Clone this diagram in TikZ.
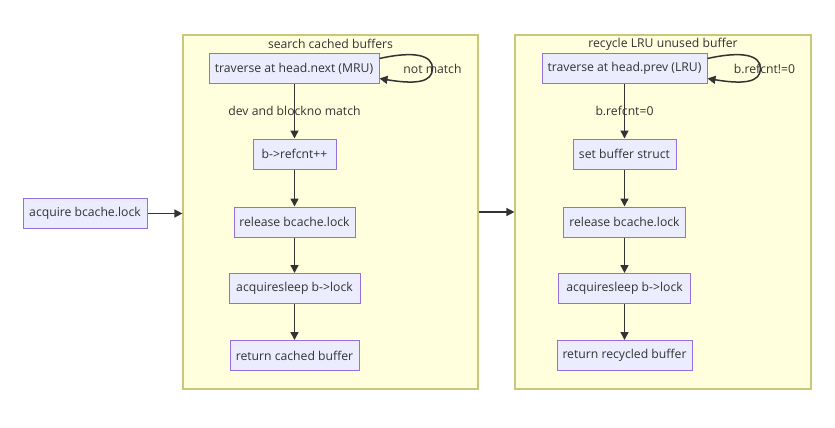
\documentclass[tikz,border=0pt]{standalone}
\usepackage{fontspec}
\setmainfont{Open Sans}
\usetikzlibrary{arrows.meta}
\definecolor{nodefill}{HTML}{ECECFF}
\definecolor{nodestroke}{HTML}{9370DB}
\definecolor{clfill}{HTML}{FFFFDE}
\definecolor{clstroke}{HTML}{C8C87A}
\definecolor{edgec}{HTML}{333333}
\begin{document}
\begin{tikzpicture}[x=1pt,y=-1pt,
  box/.style={draw=nodestroke, fill=nodefill, line width=1pt, minimum height=30pt, inner sep=0pt, font=\fontsize{12.2}{14}\selectfont, text=edgec},
  cluster/.style={draw=clstroke, fill=clfill, line width=1.2pt, inner sep=0pt},
  flow/.style={draw=edgec, line width=1.5pt, -{Triangle[length=8pt,width=8pt]}},
  lbl/.style={font=\fontsize{12.2}{14}\selectfont, text=edgec, inner sep=1pt}]
\useasboundingbox[fill=white] (0,0) rectangle (835,428);
% clusters
\node[cluster, minimum width=295pt, minimum height=354pt] (c1) at (330.5,212) {};
\node[cluster, minimum width=296pt, minimum height=354pt] (c2) at (663,212) {};
\node[lbl] (t1) at (330.5,44) {search cached buffers};
\node[lbl] (t2) at (663,44) {recycle LRU unused buffer};
% outer node
\node[box, minimum width=124pt] (acq) at (85,213.5) {acquire bcache.lock};
% left cluster
\node[box, minimum width=170pt] (trav1) at (294,68.5) {traverse at head.next (MRU)};
\node[box, minimum width=83pt] (ref1) at (294.5,154) {b->refcnt++};
\node[box, minimum width=121pt] (rel1) at (294.5,222) {release bcache.lock};
\node[box, minimum width=131pt] (slp1) at (294.5,288.5) {acquiresleep b->lock};
\node[box, minimum width=129pt] (ret1) at (294.5,355.5) {return cached buffer};
% right cluster
\node[box, minimum width=165pt] (trav2) at (624.5,68.5) {traverse at head.prev (LRU)};
\node[box, minimum width=103pt] (set2) at (624.5,154) {set buffer struct};
\node[box, minimum width=122pt] (rel2) at (624.5,222) {release bcache.lock};
\node[box, minimum width=132pt] (slp2) at (624.5,288.5) {acquiresleep b->lock};
\node[box, minimum width=135pt] (ret2) at (624.5,355.5) {return recycled buffer};
% connectors
\draw[flow] (acq.east) -- (acq.east -| c1.west);
\draw[flow] (c1.east) -- (c2.west);
\draw[flow] (trav1.south -| ref1.north) -- (ref1.north) node[lbl, midway] {dev and blockno match};
\draw[flow] (ref1) -- (rel1);
\draw[flow] (rel1) -- (slp1);
\draw[flow] (slp1) -- (ret1);
\draw[flow] (trav2) -- (set2) node[lbl, midway] {b.refcnt=0};
\draw[flow] (set2) -- (rel2);
\draw[flow] (rel2) -- (slp2);
\draw[flow] (slp2) -- (ret2);
% self loops
\draw[flow] ([yshift=10pt]trav1.east) .. controls +(36,-8) and +(0,-13) .. ([xshift=53pt]trav1.east)
  node[lbl] {not match}
  .. controls +(0,14) and +(36,6) .. ([yshift=-10pt]trav1.east);
\draw[flow] ([yshift=10pt]trav2.east) .. controls +(36,-8) and +(0,-13) .. ([xshift=53pt]trav2.east)
  node[lbl, xshift=4pt] {b.refcnt!=0}
  .. controls +(0,14) and +(36,6) .. ([yshift=-10pt]trav2.east);
\end{tikzpicture}
\end{document}
